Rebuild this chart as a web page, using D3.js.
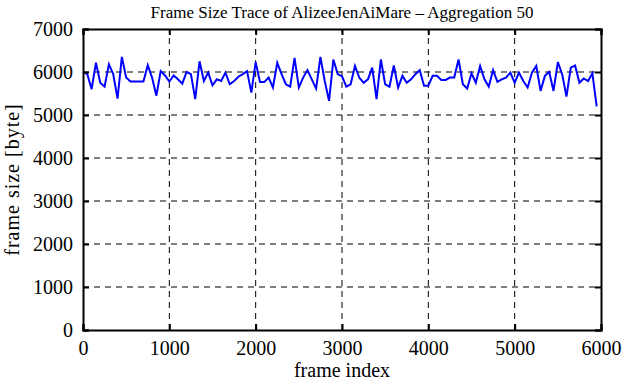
<!DOCTYPE html>
<html>
<head>
<meta charset="utf-8">
<script src="https://cdn.jsdelivr.net/npm/d3@7"></script>
<style>
  body { margin: 0; background: #fff; }
  text { font-family: "Liberation Serif", "DejaVu Serif", serif; }
</style>
</head>
<body>
<div id="chart"></div>
<script>
// 50フレームごとの集約値 (frame index = i * 50)
const frameSizes = [
  6000, 5950, 5600, 6215, 5750, 5660, 6180, 5950, 5380, 6350,
  5870, 5780, 5780, 5780, 5780, 6160, 5870, 5450, 6020, 5920,
  5780, 5920, 5830, 5730, 6000, 5950, 5370, 6250, 5790, 5985,
  5690, 5830, 5790, 5985, 5715, 5790, 5890, 5950, 6020, 5520,
  6230, 5770, 5770, 5870, 5640, 6215, 5950, 5715, 5660, 6330,
  5640, 5870, 6045, 5830, 5615, 6350, 5790, 5330, 6290, 5950,
  5900, 5660, 5715, 6140, 5870, 5750, 5830, 6100, 5370, 6290,
  5715, 5660, 6150, 5640, 5910, 5750, 5830, 5950, 6045, 5680,
  5680, 5910, 5910, 5815, 5815, 5870, 5870, 6290, 5715, 5615,
  5970, 5750, 6140, 5830, 5660, 6045, 5770, 5830, 5870, 5985,
  5750, 5985, 5790, 5640, 5985, 6140, 5560, 5910, 6000, 5560,
  6230, 5950, 5430, 6100, 6150, 5750, 5850, 5790, 5970, 5200
];
const aggregation = 50;
const xTicks = [0, 1000, 2000, 3000, 4000, 5000, 6000];
const yTicks = [0, 1000, 2000, 3000, 4000, 5000, 6000, 7000];

const width = 626, height = 380;
const margin = { top: 29, right: 25, bottom: 50, left: 83 };

const svg = d3.select('#chart')
  .append('svg')
  .attr('width', width)
  .attr('height', height);

const x = d3.scaleLinear().domain([0, 6000]).range([margin.left, width - margin.right]);
const y = d3.scaleLinear().domain([0, 7000]).range([height - margin.bottom, margin.top]);

// グリッド
const grid = svg.append('g')
  .attr('stroke', '#000')
  .attr('stroke-width', 1)
  .attr('stroke-dasharray', '6,5');
grid.selectAll('.gx')
  .data(xTicks.slice(1, -1))
  .enter()
  .append('line')
  .attr('x1', d => x(d)).attr('x2', d => x(d))
  .attr('y1', y(0)).attr('y2', y(7000));
grid.selectAll('.gy')
  .data(yTicks.slice(1, -1))
  .enter()
  .append('line')
  .attr('x1', x(0)).attr('x2', x(6000))
  .attr('y1', d => y(d)).attr('y2', d => y(d));

// 折れ線
const line = d3.line()
  .x((d, i) => x(i * aggregation))
  .y(d => y(d));
svg.append('path')
  .datum(frameSizes)
  .attr('fill', 'none')
  .attr('stroke', '#0000ff')
  .attr('stroke-width', 2)
  .attr('d', line);

// 軸 (目盛りは内向き)
const tickLen = 6;
svg.append('g')
  .attr('transform', `translate(0,${y(0)})`)
  .call(d3.axisBottom(x).tickValues(xTicks).tickSize(-tickLen).tickPadding(11).tickFormat(d3.format('d')));
svg.append('g')
  .attr('transform', `translate(0,${y(7000)})`)
  .call(d3.axisTop(x).tickValues(xTicks).tickSize(-tickLen).tickFormat(''));
svg.append('g')
  .attr('transform', `translate(${x(0)},0)`)
  .call(d3.axisLeft(y).tickValues(yTicks).tickSize(-tickLen).tickPadding(10).tickFormat(d3.format('d')));
svg.append('g')
  .attr('transform', `translate(${x(6000)},0)`)
  .call(d3.axisRight(y).tickValues(yTicks).tickSize(-tickLen).tickFormat(''));

svg.selectAll('.domain').attr('stroke', '#000').attr('stroke-width', 2);
svg.selectAll('.tick line').attr('stroke', '#000').attr('stroke-width', 2);
svg.selectAll('.tick text')
  .attr('fill', '#000')
  .style('font-size', '20px')
  .style('font-family', '"Liberation Serif", serif');

// タイトルとラベル
svg.append('text')
  .attr('x', (x(0) + x(6000)) / 2)
  .attr('y', 18)
  .attr('text-anchor', 'middle')
  .style('font-size', '17px')
  .text('Frame Size Trace of AlizeeJenAiMare \u2013 Aggregation 50');
svg.append('text')
  .attr('x', (x(0) + x(6000)) / 2)
  .attr('y', 377)
  .attr('text-anchor', 'middle')
  .style('font-size', '20px')
  .text('frame index');
svg.append('text')
  .attr('transform', `translate(19,${(y(0) + y(7000)) / 2}) rotate(-90)`)
  .attr('text-anchor', 'middle')
  .style('font-size', '20px')
  .style('letter-spacing', '1px')
  .text('frame size [byte]');
</script>
</body>
</html>
